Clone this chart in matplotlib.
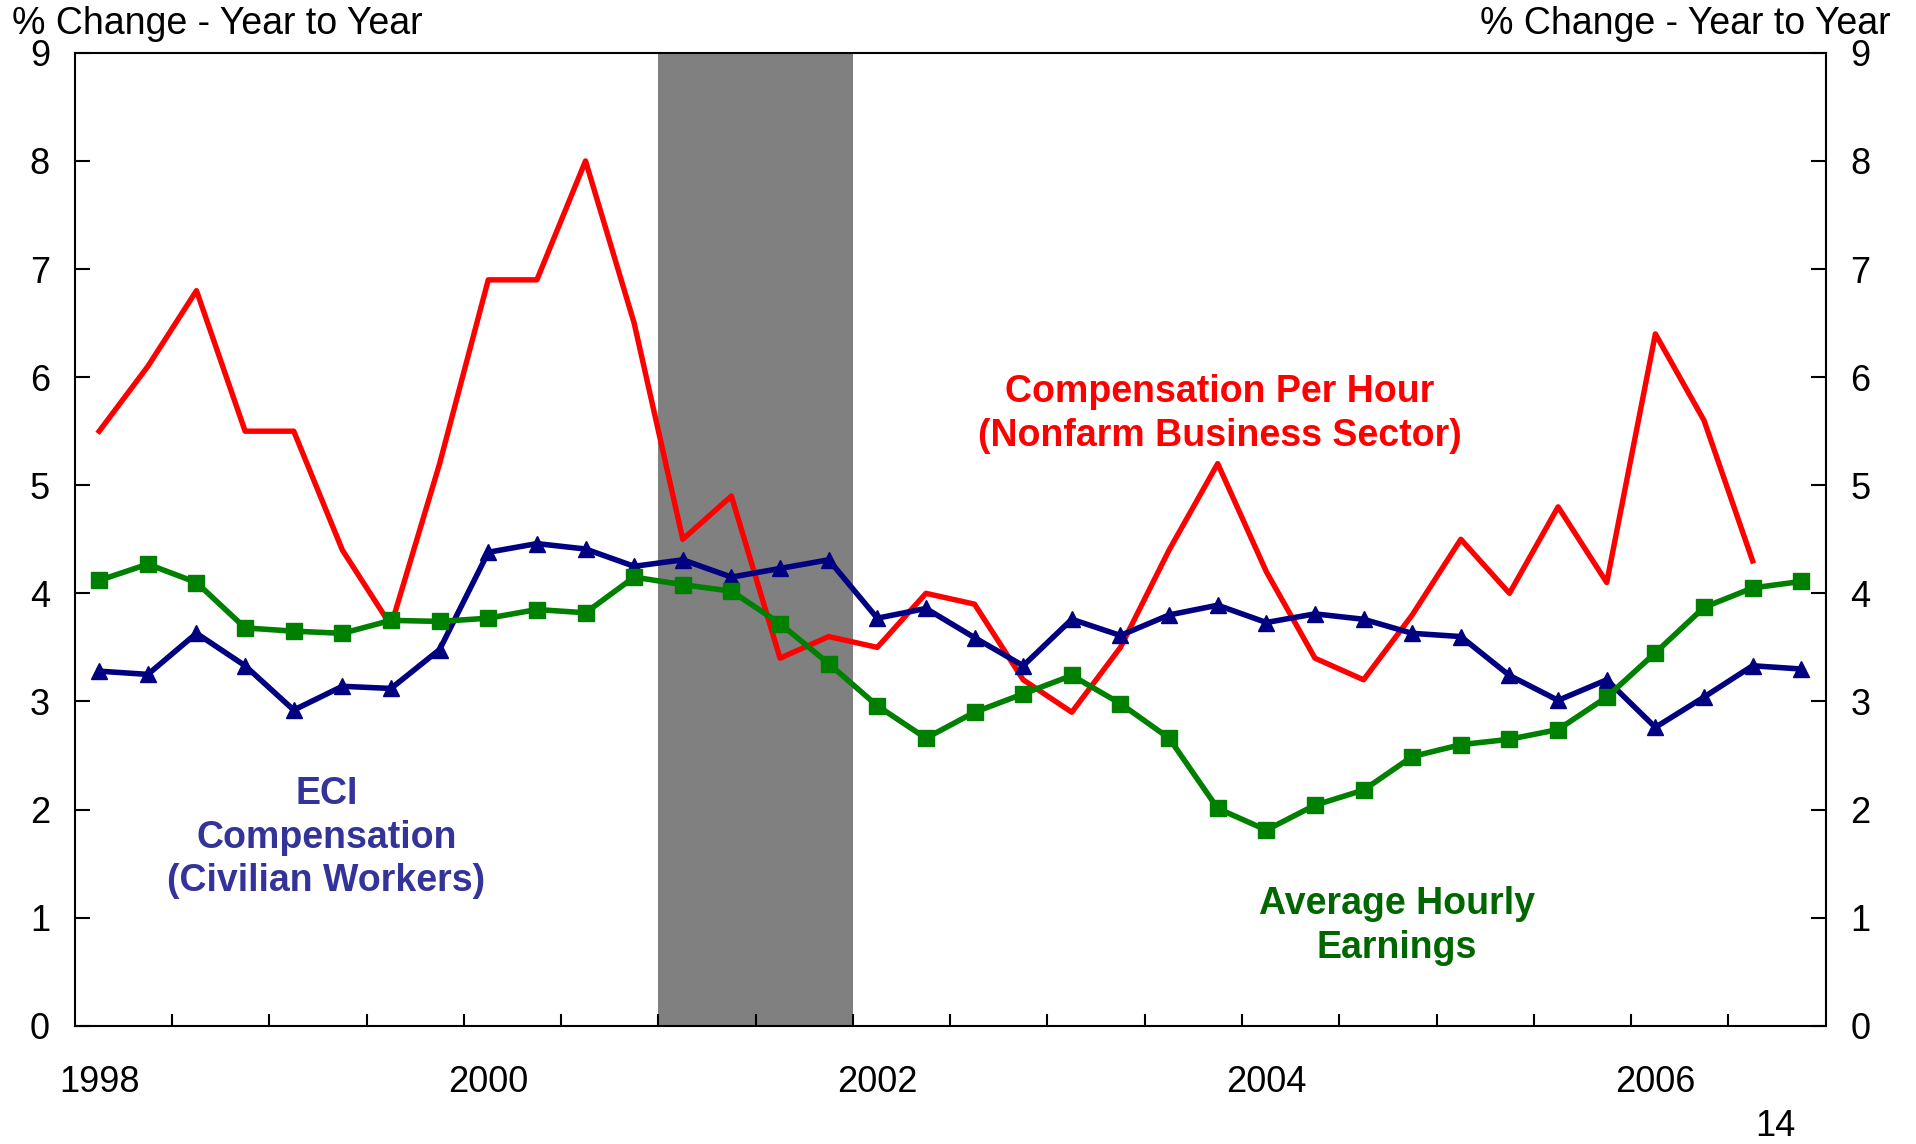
import matplotlib
matplotlib.use("Agg")
import matplotlib.pyplot as plt
from matplotlib.ticker import FixedLocator

plt.rcParams['font.family'] = ['Liberation Sans', 'DejaVu Sans']

# quarters 1998Q1 .. 2006Q4
quarters = [f"{y}Q{q}" for y in range(1998, 2007) for q in range(1, 5)]
year_labels = ['1998', '2000', '2002', '2004', '2006']
year_pos = [0, 8, 16, 24, 32]

# ECI compensation, civilian workers
eci = [3.28, 3.25, 3.63, 3.33, 2.92, 3.14, 3.12, 3.48, 4.38, 4.46, 4.41, 4.25,
       4.31, 4.15, 4.23, 4.31, 3.77, 3.86, 3.59, 3.33, 3.76, 3.61, 3.80, 3.89,
       3.73, 3.81, 3.76, 3.63, 3.60, 3.24, 3.01, 3.20, 2.76, 3.04, 3.33, 3.30]

# average hourly earnings
ahe = [4.12, 4.27, 4.10, 3.68, 3.65, 3.63, 3.75, 3.74, 3.77, 3.85, 3.82, 4.15,
       4.08, 4.02, 3.72, 3.35, 2.96, 2.66, 2.90, 3.07, 3.24, 2.98, 2.66, 2.01,
       1.81, 2.04, 2.18, 2.49, 2.60, 2.65, 2.74, 3.04, 3.45, 3.87, 4.05, 4.11]

# compensation per hour, nonfarm business (ends 2006Q3)
cph = [5.5, 6.1, 6.8, 5.5, 5.5, 4.4, 3.7, 5.2, 6.9, 6.9, 8.0, 6.5,
       4.5, 4.9, 3.4, 3.6, 3.5, 4.0, 3.9, 3.2, 2.9, 3.5, 4.4, 5.2,
       4.2, 3.4, 3.2, 3.8, 4.5, 4.0, 4.8, 4.1, 6.4, 5.6, 4.3]

# recession 2001Q1 - 2001Q4
rec_start, rec_end = 12, 15

x = list(range(len(quarters)))

fig = plt.figure(figsize=(19.16, 11.44), dpi=100)
ax = fig.add_axes([0.0391, 0.1034, 0.9137, 0.8504])

ax.axvspan(rec_start - 0.5, rec_end + 0.5, color='#808080', lw=0, zorder=1)

ax.plot(x[:len(cph)], cph, color='#FF0000', lw=3.9, zorder=3)
ax.plot(x, eci, color='#000080', lw=4.0, marker='^', ms=12, zorder=4)
ax.plot(x, ahe, color='#008000', lw=4.0, marker='s', ms=11, zorder=5)

ax.set_xlim(-0.5, len(quarters) - 0.5)
ax.set_ylim(0, 9)
ax.set_yticks(range(0, 10))

ax.xaxis.set_major_locator(FixedLocator(year_pos))
ax.set_xticklabels(year_labels)
ax.xaxis.set_minor_locator(FixedLocator([i + 0.5 for i in range(1, 35, 2)]))
ax.tick_params(axis='x', which='major', length=0, pad=28, labelsize=26)
ax.tick_params(axis='x', which='minor', direction='in', length=9, width=1.5)
ax.tick_params(axis='y', direction='in', length=11, width=1.5, labelsize=26,
               pad=18, left=True, right=True, labelleft=True, labelright=True)

for s in ax.spines.values():
    s.set_linewidth(1.5)
    s.set_color('black')

ax.text(4.67, 1.74, 'ECI\nCompensation\n(Civilian Workers)', color='#333399',
        fontsize=27, fontweight='bold', ha='center', va='center',
        linespacing=1.27, zorder=6)
ax.text(23.05, 5.66, 'Compensation Per Hour\n(Nonfarm Business Sector)',
        color='#FF0000', fontsize=27, fontweight='bold', ha='center',
        va='center', linespacing=1.27, zorder=6)
ax.text(26.68, 0.92, 'Average Hourly\nEarnings', color='#006600',
        fontsize=27, fontweight='bold', ha='center', va='center',
        linespacing=1.27, zorder=6)

fig.text(12 / 1916, 1 - 34 / 1144, '% Change - Year to Year', fontsize=27,
         ha='left', va='baseline')
fig.text(1890 / 1916, 1 - 34 / 1144, '% Change - Year to Year', fontsize=27,
         ha='right', va='baseline')
fig.text(1775 / 1916, 1 - 1126 / 1144, '14', fontsize=26,
         ha='center', va='center')

fig.savefig('out.png', dpi=100)
